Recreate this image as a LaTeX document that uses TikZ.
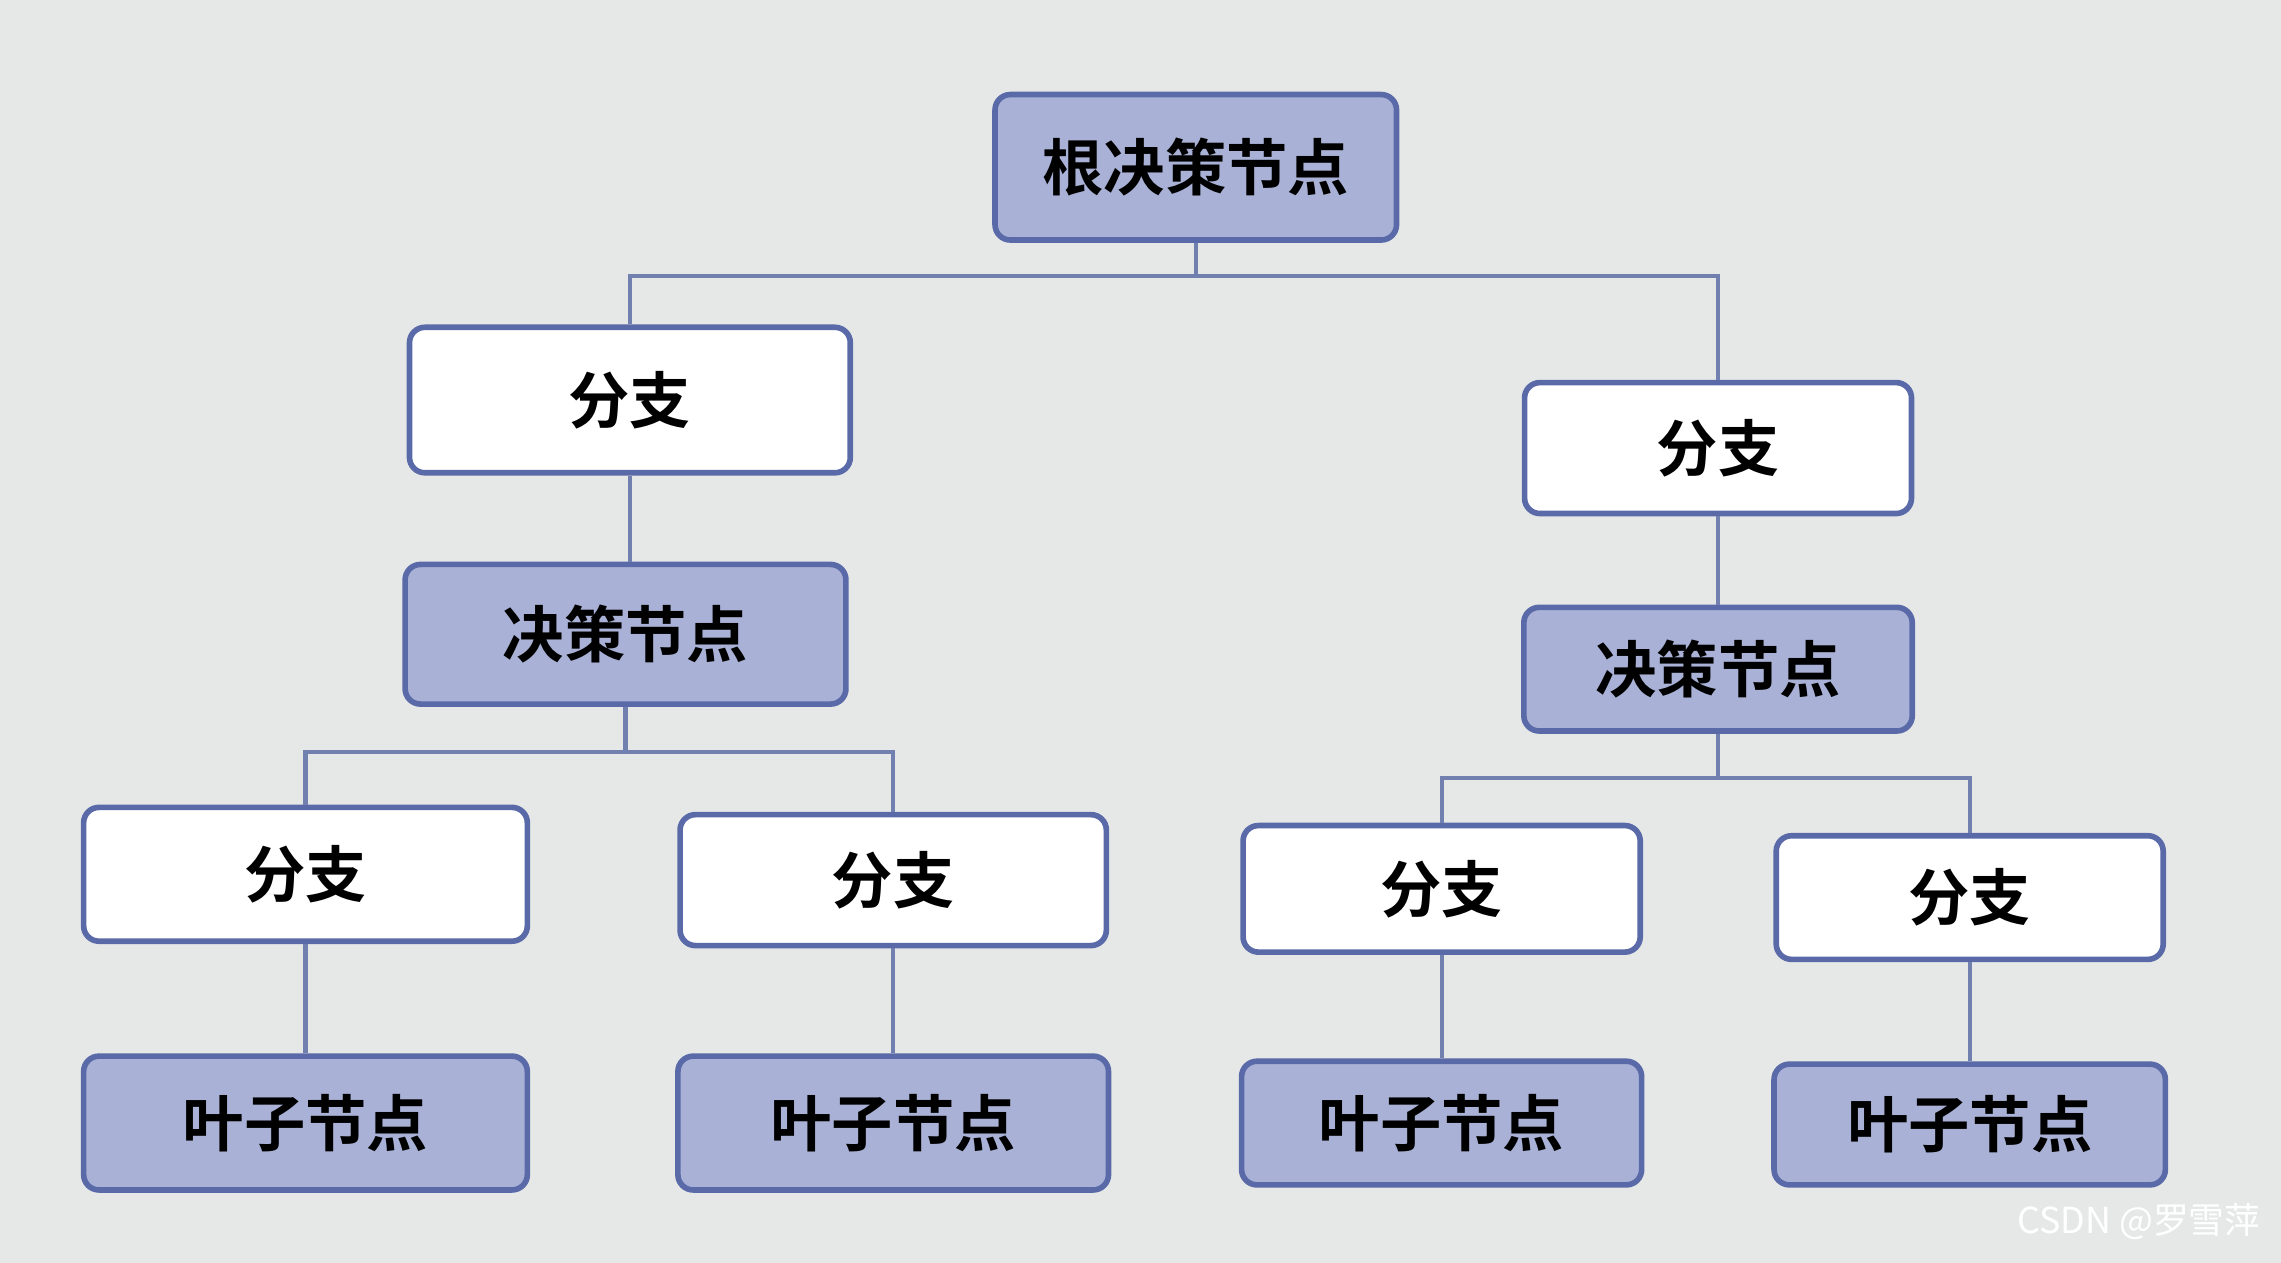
\documentclass[tikz,border=0pt]{standalone}
\usepackage{fontspec}
\newfontfamily\cjk{Noto Sans CJK SC}
\newfontfamily\cjkb{Noto Sans CJK SC Bold}
\definecolor{bg}{HTML}{E6E8E8}
\definecolor{edge}{HTML}{5A6AA8}
\definecolor{fillb}{HTML}{A9B2D6}
\definecolor{wire}{HTML}{7280B0}
\begin{document}
\begin{tikzpicture}[x=0.02cm,y=-0.02cm,
  box/.style={draw=edge,line width=2.2pt,rounded corners=6pt,fill=white,inner sep=0pt,font=\cjkb\fontsize{24}{24}\selectfont},
  dec/.style={box,fill=fillb},
  wl/.style={draw=wire,line width=1.6pt}]
\fill[bg] (0,0) rectangle (1568,868);
\useasboundingbox (0,0) rectangle (1568,868);
\newcommand\bx[6]{\node[#1,minimum width=#4*0.02cm,minimum height=#5*0.02cm] (#2) at (#3) {#6};}
\bx{dec}{root}{822,115}{276}{100}{根决策节点}
\bx{box}{bl}{433,275}{303}{100}{分支}
\bx{dec}{dl}{430,436}{303}{96}{决策节点}
\bx{box}{br}{1181,308}{266}{90}{分支}
\bx{dec}{dr}{1181,460}{267}{85}{决策节点}
\bx{box}{b1}{210,601}{305}{92}{分支}
\bx{box}{b2}{614,605}{293}{90}{分支}
\bx{box}{b3}{991,611}{273}{87}{分支}
\bx{box}{b4}{1354,617}{266}{85}{分支}
\bx{dec}{l1}{210,772}{305}{92}{叶子节点}
\bx{dec}{l2}{614,772}{296}{92}{叶子节点}
\bx{dec}{l3}{991,772}{275}{85}{叶子节点}
\bx{dec}{l4}{1354,773}{269}{83}{叶子节点}
\coordinate (j0) at (822,190);
\coordinate (j1) at (430,517);
\coordinate (j2) at (1181,535);
\draw[wl] (root.south) -- (j0);
\draw[wl] (bl.north) |- (j0) -| (br.north);
\draw[wl] (bl.south) -- (bl.south |- dl.north);
\draw[wl] (br) -- (dr);
\draw[wl] (dl.south) -- (j1);
\draw[wl] (b1.north) |- (j1) -| (b2.north);
\draw[wl] (dr.south) -- (j2);
\draw[wl] (b3.north) |- (j2) -| (b4.north);
\draw[wl] (b1) -- (l1);
\draw[wl] (b2) -- (l2);
\draw[wl] (b3) -- (l3);
\draw[wl] (b4) -- (l4);
\node[text=white,font=\cjk\fontsize{14}{14}\selectfont,anchor=east] (wm) at (1560,840) {CSDN @罗雪萍};
\end{tikzpicture}
\end{document}
